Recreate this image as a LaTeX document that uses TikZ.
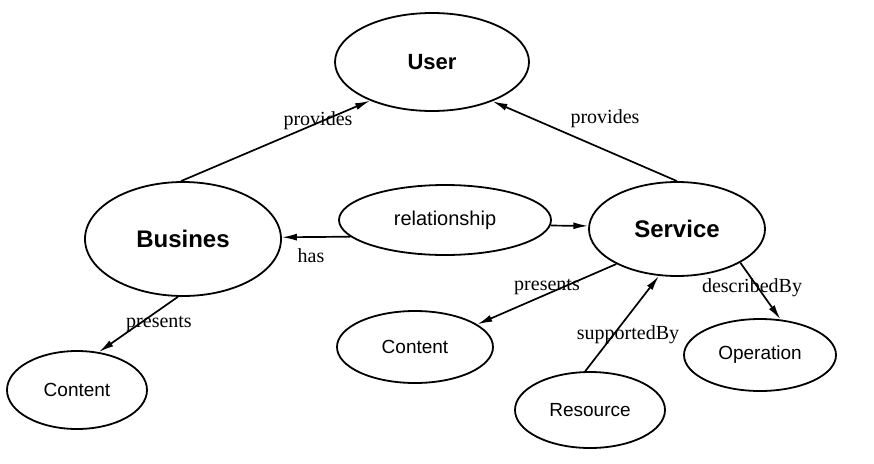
\documentclass[tikz,border=0pt]{standalone}
\usepackage{fontspec}
\setmainfont{Liberation Serif}
\setsansfont{Liberation Sans}
\usetikzlibrary{shapes.geometric,arrows.meta}
\tikzset{
  ent/.style={ellipse,draw,line width=1.8pt,inner sep=0pt,font=\sffamily\fontsize{19}{19}\selectfont},
  bent/.style={ent,font=\sffamily\bfseries\fontsize{24}{24}\selectfont},
  rel/.style={line width=1.7pt,-{Latex[length=15pt,width=7pt]}},
  lbl/.style={inner sep=0pt,font=\fontsize{20}{20}\selectfont}
}
\begin{document}
\begin{tikzpicture}[x=1pt,y=-1pt]
\useasboundingbox (0,0) rectangle (874,463);
\node[bent,font=\sffamily\bfseries\fontsize{22}{22}\selectfont,minimum width=194pt,minimum height=98pt] (user) at (432,62) {User};
\node[bent,minimum width=196pt,minimum height=114pt] (bus) at (183,239) {Busines};
\node[ent,font=\sffamily\fontsize{20}{20}\selectfont,minimum width=212pt,minimum height=70pt] (relat) at (445,220) {relationship};
\node[bent,minimum width=176pt,minimum height=94pt] (serv) at (677,229) {Service};
\node[ent,minimum width=140pt,minimum height=78pt] (cont1) at (77,390) {Content};
\node[ent,minimum width=156pt,minimum height=72pt] (cont2) at (415,347) {Content};
\node[ent,minimum width=150pt,minimum height=76pt] (res) at (590,410) {Resource};
\node[ent,minimum width=152pt,minimum height=72pt] (oper) at (760,355) {Operation};

\draw[rel] (bus.92) -- (user.212);
\draw[rel] (serv.90) -- (user.327);
\draw[rel] (relat.190) -- (bus.1);
\draw[rel] (relat.357) -- (serv.178);
\draw[rel] (bus.265) -- (cont1.60);
\draw[rel] (serv.210) -- (cont2.20);
\draw[rel] (res.97) -- (serv.249);
\draw[rel] (serv.332) -- (oper.60);

\node[lbl] (l1) at (318,121) {provides};
\node[lbl] (l2) at (605,119) {provides};
\node[lbl] (l3) at (311,256) {has};
\node[lbl] (l4) at (159,324) {presents};
\node[lbl] (l5) at (547,287) {presents};
\node[lbl] (l6) at (628,335) {supportedBy};
\node[lbl] (l7) at (752,288) {describedBy};
\end{tikzpicture}
\end{document}
